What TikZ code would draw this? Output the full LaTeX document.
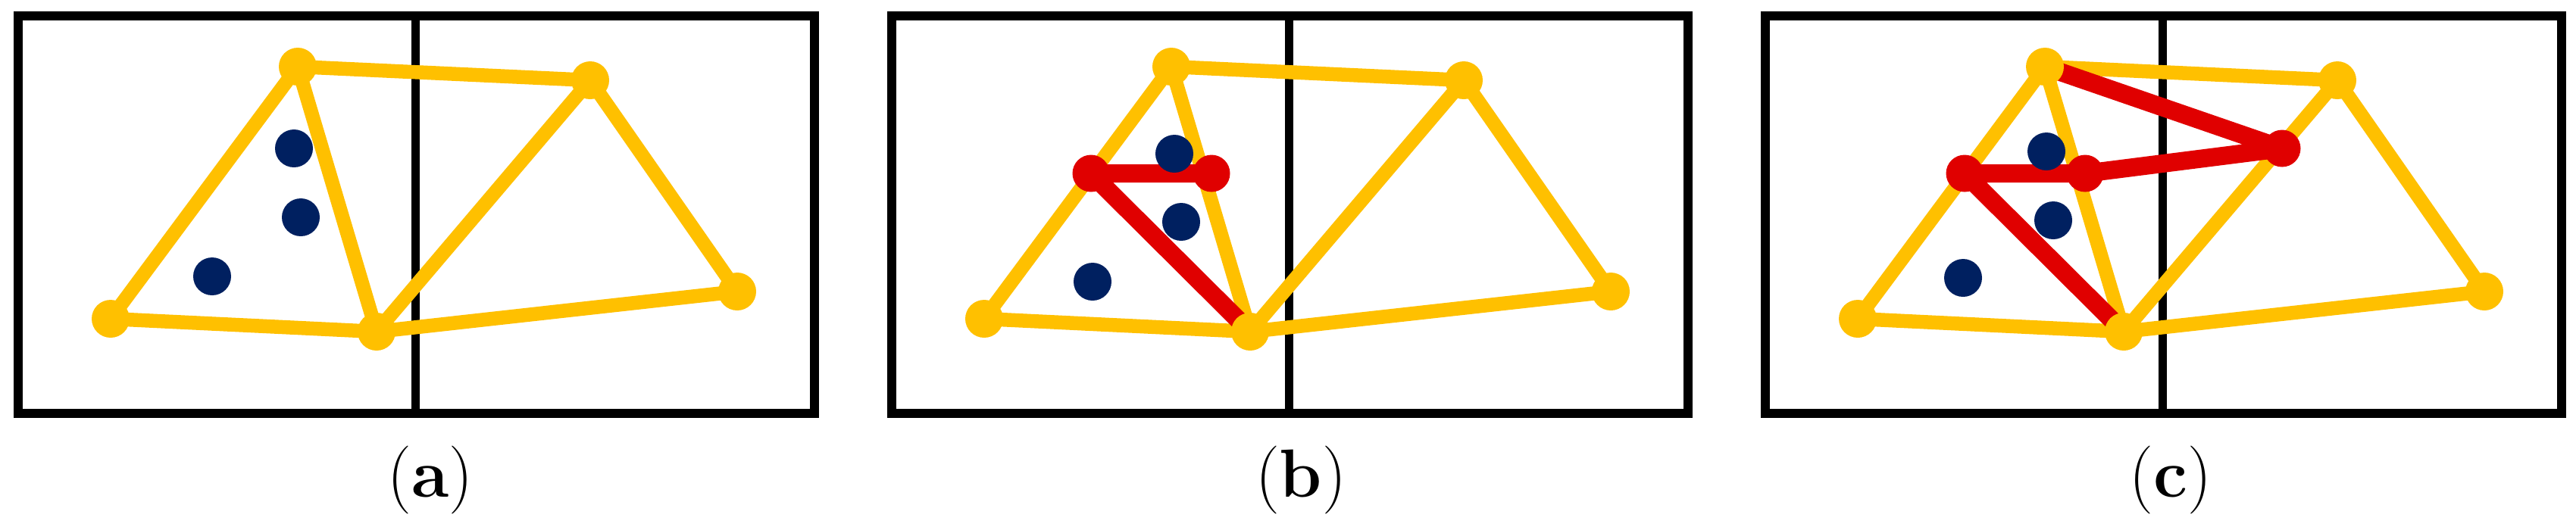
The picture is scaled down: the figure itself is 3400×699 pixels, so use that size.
\documentclass[tikz,border=0pt]{standalone}
\definecolor{gold}{HTML}{FFC000}
\definecolor{rred}{HTML}{E00000}
\definecolor{navy}{HTML}{002060}
\tikzset{
  framebox/.style={draw=black, line width=2.5pt},
  divider/.style={draw=black, line width=2.2pt},
  yedge/.style={draw=gold, line width=3.7pt, line cap=round},
  redge/.style={draw=rred, line width=4.8pt, line cap=round, line join=round},
  ydot/.style={circle, fill=gold, inner sep=0pt, minimum size=10pt},
  rdot/.style={circle, fill=rred, inner sep=0pt, minimum size=9.8pt},
  ndot/.style={circle, fill=navy, inner sep=0pt, minimum size=10pt},
  captext/.style={anchor=base, inner sep=0pt, font=\fontsize{18}{21}\selectfont},
}
\newcommand\panelgeom[2]{%
  \begin{scope}[shift={(#2,0)}]
    \coordinate (#1F1) at (24,21);
    \coordinate (#1F2) at (1075,546);
    \coordinate (#1D1) at (548,21);
    \coordinate (#1D2) at (548,546);
    \coordinate (#1T) at (393,88);
    \coordinate (#1R) at (779,106);
    \coordinate (#1L) at (146,421);
    \coordinate (#1M) at (497,438);
    \coordinate (#1Q) at (973,385);
    \coordinate (#1P1) at (287,229);
    \coordinate (#1P2) at (446,229);
    \coordinate (#1P3) at (706,196);
  \end{scope}}
\newcommand\panelframe[1]{%
  \draw[framebox] (#1F1) rectangle (#1F2);
  \draw[divider] (#1D1) -- (#1D2);}
\newcommand\paneledges[1]{%
  \draw[yedge] (#1L) -- (#1T);
  \draw[yedge] (#1T) -- (#1M);
  \draw[yedge] (#1L) -- (#1M);
  \draw[yedge] (#1T) -- (#1R);
  \draw[yedge] (#1M) -- (#1R);
  \draw[yedge] (#1R) -- (#1Q);
  \draw[yedge] (#1M) -- (#1Q);}
\newcommand\paneldots[1]{%
  \node[ydot] (#1Tdot) at (#1T) {};
  \node[ydot] (#1Rdot) at (#1R) {};
  \node[ydot] (#1Ldot) at (#1L) {};
  \node[ydot] (#1Mdot) at (#1M) {};
  \node[ydot] (#1Qdot) at (#1Q) {};}
% #1 letter, #2..#7 navy dot positions, #8 caption x
\newcommand\panelnavy[8]{%
  \node[ndot] (#1N1dot) at (#2,#3) {};
  \node[ndot] (#1N2dot) at (#4,#5) {};
  \node[ndot] (#1N3dot) at (#6,#7) {};
  \node[captext] (#1cap) at (#8,656) {(\textbf{#1})};}
\begin{document}
\begin{tikzpicture}[x=0.2pt, y=-0.2pt]
  \useasboundingbox (0,0) rectangle (3400,699);
  \panelgeom{a}{0}
  \panelgeom{b}{1153}
  \panelgeom{c}{2306}
  % frames
  \panelframe{a}
  \panelframe{b}
  \panelframe{c}
  % yellow mesh
  \paneledges{a}
  \paneledges{b}
  \paneledges{c}
  % red paths
  \draw[redge] (bP2) -- (bP1) -- (bM);
  \draw[redge] (cT) -- (cP3) -- (cP2) -- (cP1) -- (cM);
  % vertices
  \paneldots{a}
  \paneldots{b}
  \paneldots{c}
  % red points
  \node[rdot] (bP1dot) at (bP1) {};
  \node[rdot] (bP2dot) at (bP2) {};
  \node[rdot] (cP1dot) at (cP1) {};
  \node[rdot] (cP2dot) at (cP2) {};
  \node[rdot] (cP3dot) at (cP3) {};
  % navy points and captions
  \panelnavy{a}{388}{196}{397}{287}{280}{365}{568}
  \panelnavy{b}{1550}{203}{1559}{293}{1442}{372}{1717}
  \panelnavy{c}{2701}{200}{2710}{291}{2591}{367}{2865}
\end{tikzpicture}
\end{document}
